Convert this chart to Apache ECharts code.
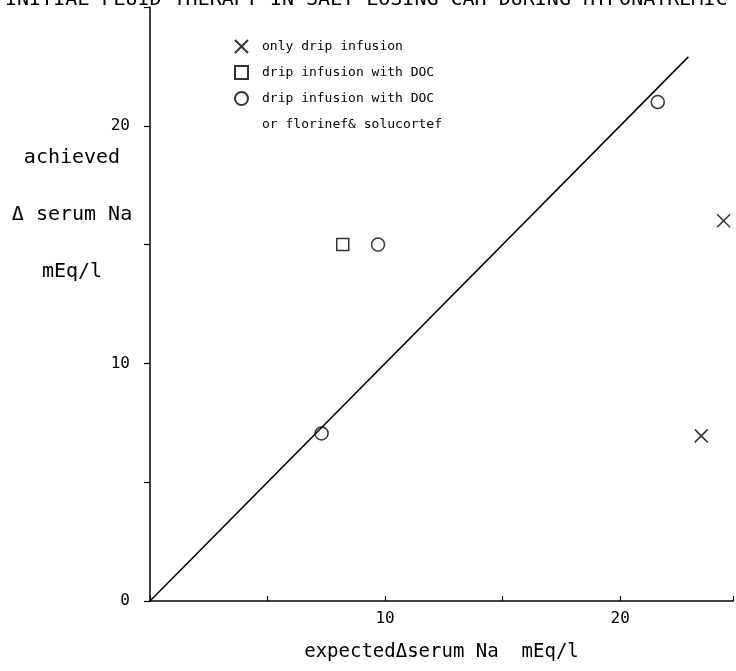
<!DOCTYPE html>
<html>
<head>
<meta charset="utf-8">
<script src="https://cdn.jsdelivr.net/npm/echarts@6/dist/echarts.min.js"></script>
<style>
html,body{margin:0;padding:0;background:#fff;}
#chart{width:736px;height:671px;}
</style>
</head>
<body>
<div id="chart"></div>
<script>
// ---- data ----
const titleText = 'INITIAL FLUID THERAPY IN SALT-LOSING CAH DURING HYPONATREMIC PERIOD';
const seriesNames = ['only drip infusion', 'drip infusion with DOC', 'drip infusion with DOC '];
const legendExtraLine = 'or florinef& solucortef';
const xAxisName = 'expected\u0394serum Na  mEq/l';
const yAxisNameLines = ['achieved', '\u0394 serum Na', 'mEq/l'];
const xTickLabels = [10, 20];
const yTickLabels = [0, 10, 20];
// points [expected, achieved]
const onlyDrip = [[24.4, 16.0], [23.45, 6.95]];
const dripWithDOC = [[8.2, 15.0]];
const dripWithDOCorFlorinef = [[7.3, 7.05], [9.7, 15.0], [21.6, 21.0]];
// identity reference line
const refLineX = [0, 22.9];
const refLineY = [0, 22.9];

const mono = 'DejaVu Sans Mono';
const chart = echarts.init(document.getElementById('chart'));
const crossPath = 'path://M0,0L10,10M10,0L0,10';
const markerStyle = {color: '#fff', borderColor: '#000', borderWidth: 1.5};

chart.setOption({
  backgroundColor: '#fff',
  animation: false,
  title: {
    text: titleText,
    left: 0, top: -15,
    textStyle: {fontFamily: mono, fontSize: 20, fontWeight: 'normal', color: '#000'}
  },
  legend: {
    data: seriesNames,
    orient: 'vertical',
    left: 229, top: 34,
    itemWidth: 13, itemHeight: 13, itemGap: 11,
    textStyle: {fontFamily: mono, fontSize: 13, color: '#000', padding: [0, 0, 0, 9]},
    formatter: n => n.trim()
  },
  graphic: [
    {
      type: 'text', left: 262, top: 118,
      style: {text: legendExtraLine, font: '13px "DejaVu Sans Mono"', fill: '#000'}
    },
    {
      type: 'text', x: 72, y: 215,
      style: {text: yAxisNameLines.join('\n'), font: '20px "DejaVu Sans Mono"', fill: '#000',
        align: 'center', verticalAlign: 'middle', lineHeight: 57}
    }
  ],
  grid: {left: 150, right: 0, top: 7, bottom: 70},
  xAxis: {
    type: 'value', min: 0, max: 24.8, interval: 5,
    name: xAxisName, nameLocation: 'middle', nameGap: 42,
    nameTextStyle: {fontFamily: mono, fontSize: 19, color: '#000'},
    axisLine: {lineStyle: {color: '#000', width: 1.5}},
    axisTick: {inside: true, length: 5, lineStyle: {color: '#000', width: 1.2}},
    axisLabel: {
      margin: 10, fontFamily: mono, fontSize: 16, color: '#000',
      formatter: v => xTickLabels.includes(v) ? String(v) : ''
    },
    splitLine: {show: false}
  },
  yAxis: {
    type: 'value', min: 0, max: 25, interval: 5,
    axisLine: {lineStyle: {color: '#000', width: 1.5}},
    axisTick: {length: 6, lineStyle: {color: '#000', width: 1.2}},
    axisLabel: {
      margin: 20, fontFamily: mono, fontSize: 16, color: '#000',
      formatter: v => yTickLabels.includes(v) ? String(v) : ''
    },
    splitLine: {show: false}
  },
  series: [
    {
      name: seriesNames[0], type: 'scatter', symbol: crossPath, symbolSize: 13,
      itemStyle: markerStyle, data: onlyDrip
    },
    {
      name: seriesNames[1], type: 'scatter', symbol: 'rect', symbolSize: 12,
      itemStyle: markerStyle, data: dripWithDOC
    },
    {
      name: seriesNames[2], type: 'scatter', symbol: 'circle', symbolSize: 13,
      itemStyle: markerStyle, data: dripWithDOCorFlorinef
    },
    {
      name: 'identity', type: 'line', showSymbol: false, symbol: 'none',
      lineStyle: {color: '#000', width: 1.5},
      data: refLineX.map((x, i) => [x, refLineY[i]])
    }
  ]
});
</script>
</body>
</html>
